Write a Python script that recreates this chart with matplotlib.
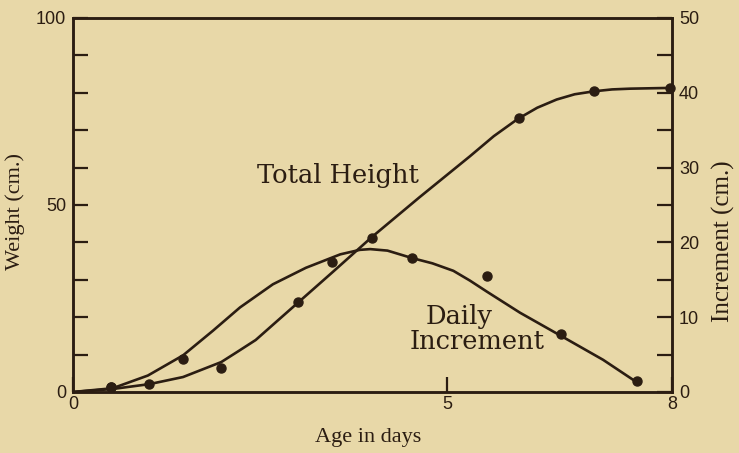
import matplotlib.pyplot as plt

# measured points (days, cm)
height_days = [0.51, 1.02, 1.98, 3.00, 3.99, 5.96, 6.96, 7.97]
height_vals = [1.3, 2.1, 6.4, 24.1, 41.2, 73.3, 80.5, 81.3]

incr_days = [0.51, 1.47, 3.46, 4.53, 5.53, 6.52, 7.53]
incr_vals = [0.7, 4.4, 17.4, 17.9, 15.5, 7.8, 1.5]

# fitted curves
height_curve_x = [0, 0.53, 1.02, 1.47, 1.98, 2.2, 2.44, 2.7, 3.00, 3.47, 3.99, 4.63, 5.30,
                  5.62, 5.94, 6.2, 6.46, 6.7, 6.96, 7.2, 7.44, 7.97]
height_curve_y = [0, 0.8, 2.1, 4.0, 8.0, 10.8, 13.9, 18.5, 23.8, 32.1, 41.4, 52.1, 63.0,
                  68.4, 73.0, 76.0, 78.2, 79.6, 80.4, 80.9, 81.1, 81.3]

incr_curve_x = [0, 0.53, 1.0, 1.47, 1.87, 2.23, 2.67, 3.11, 3.57, 3.83, 3.97, 4.2, 4.53,
                4.8, 5.08, 5.3, 5.53, 5.97, 6.50, 7.08, 7.53]
incr_curve_y = [0, 0.5, 2.2, 4.9, 8.2, 11.3, 14.4, 16.6, 18.4, 19.0, 19.1, 18.9, 17.9,
                17.2, 16.2, 14.9, 13.4, 10.6, 7.6, 4.3, 1.3]

x_ticks = [0, 5, 8]
left_ticks = list(range(0, 101, 10))
left_labels = ['0', '', '', '', '', '50', '', '', '', '', '100']
right_ticks = list(range(0, 51, 5))
right_labels = ['0', '', '10', '', '20', '', '30', '', '40', '', '50']

bg = '#e8d8a8'
ink = '#2b1d12'
num_font = ['Liberation Sans', 'DejaVu Sans']
serif = ['Liberation Serif', 'DejaVu Serif']
wide_serif = ['DejaVu Serif']

fig = plt.figure(figsize=(7.39, 4.53), dpi=100, facecolor=bg)
ax = fig.add_axes([0.0988, 0.1347, 0.8105, 0.8256])
ax.set_facecolor(bg)
ax2 = ax.twinx()

ax.plot(height_curve_x, height_curve_y, color=ink, lw=1.9, solid_joinstyle='round')
ax.plot(height_days, height_vals, 'o', color=ink, ms=6.5, clip_on=False)
ax2.plot(incr_curve_x, incr_curve_y, color=ink, lw=1.9, solid_joinstyle='round')
ax2.plot(incr_days, incr_vals, 'o', color=ink, ms=6.5, clip_on=False)

ax.set_xlim(0, 8)
ax.set_ylim(0, 100)
ax2.set_ylim(0, 50)

ax.set_xticks(x_ticks)
ax.set_xticklabels([str(v) for v in x_ticks], family=num_font, fontsize=13, color=ink)
ax.set_yticks(left_ticks)
ax.set_yticklabels(left_labels, family=num_font, fontsize=13, color=ink)
ax2.set_yticks(right_ticks)
ax2.set_yticklabels(right_labels, family=num_font, fontsize=13, color=ink)

ax.tick_params(axis='both', direction='in', length=11, width=1.6, color=ink, pad=5)
ax.tick_params(axis='x', pad=3)
ax2.tick_params(axis='y', direction='in', length=11, width=1.6, color=ink, pad=5)

for a in (ax, ax2):
    for s in a.spines.values():
        s.set_linewidth(1.8)
        s.set_color(ink)

ax.set_xlabel('Age in days', family=serif, fontsize=16, color=ink)
ax.xaxis.set_label_coords(0.4925, -0.095)
ax.set_ylabel('Weight (cm.)', family=serif, fontsize=16, color=ink)
ax.yaxis.set_label_coords(-0.080, 0.483)
ax2.set_ylabel('Increment (cm.)', family=serif, fontsize=18, color=ink)
ax2.yaxis.set_label_coords(1.066, 0.404)

ax.text(3.54, 55.9, 'Total Height', family=wide_serif, fontsize=18.5, color=ink,
        ha='center', va='baseline')
ax.text(5.16, 18.2, 'Daily', family=wide_serif, fontsize=18.5, color=ink,
        ha='center', va='baseline')
ax.text(5.40, 11.5, 'Increment', family=wide_serif, fontsize=18.5, color=ink,
        ha='center', va='baseline')

fig.savefig('out.png', dpi=100, facecolor=bg)
